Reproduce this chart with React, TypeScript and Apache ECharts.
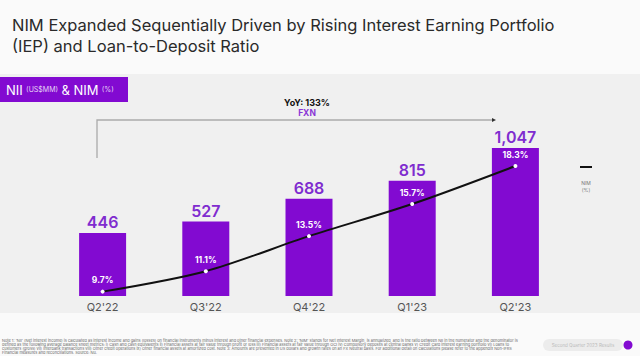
import React, { useEffect, useRef } from "react";
import * as echarts from "echarts";

const categories = ["Q2'22", "Q3'22", "Q4'22", "Q1'23", "Q2'23"];
const niiValues = [446, 527, 688, 815, 1047];
const nimValues = [9.7, 11.1, 13.5, 15.7, 18.3];

const PURPLE = "#820ad1";
const FOOT_NOTE =
  "Note 1: 'NII' (Net interest income) is calculated as interest income and gains (losses) on financial instruments minus interest and other financial expenses. Note 2: 'NIM' stands for Net Interest Margin, is annualized, and is the ratio between NII in the numerator and the denominator is defined as the following average balance sheet metrics: i) Cash and cash equivalents ii) Financial assets at fair value through profit or loss iii) Financial assets at fair value through OCI iv) Compulsory deposits at central banks v) Credit Card interest earning portfolio vi) Loans to customers (gross) vii) Interbank transactions viii) Other credit operations ix) Other financial assets at amortized cost. Note 3: Amounts are presented in US dollars and growth rates on an FX Neutral basis. For additional detail on calculations please refer to the appendix Non-IFRS Financial measures and reconciliations. Source: Nu.";

export default function App() {
  const ref = useRef<HTMLDivElement>(null);
  useEffect(() => {
    document.body.style.margin = "0";
    if (!ref.current) return;
    const chart = echarts.init(ref.current, null, { renderer: "svg" });
    chart.setOption({
      animation: false,
      backgroundColor: "#fafafa",
      textStyle: { fontFamily: "Inter" },
      grid: { left: 51, right: 73, top: 84, bottom: 60 },
      xAxis: {
        type: "category",
        data: categories,
        axisLine: { show: false },
        axisTick: { show: false },
        axisLabel: { color: "#555", fontSize: 11, margin: 5, fontFamily: "Inter" },
      },
      yAxis: [
        { type: "value", min: 0, max: 1500, show: false },
        { type: "value", min: 9.4, max: 23.92, show: false },
      ],
      graphic: [
        { type: "rect", z: -10, shape: { x: 0, y: 74, width: 640, height: 239 }, style: { fill: "#f0f0f0" } },
        {
          type: "text",
          left: 12,
          top: 14,
          style: {
            text: "NIM Expanded Sequentially Driven by Rising Interest Earning Portfolio\n(IEP) and Loan-to-Deposit Ratio",
            fontSize: 16.5,
            lineHeight: 21,
            fill: "#2a2a2a",
            fontFamily: "Inter",
          },
        },
        { type: "rect", shape: { x: 0, y: 77, width: 128, height: 25 }, style: { fill: PURPLE } },
        {
          type: "text",
          x: 6,
          y: 89.5,
          style: {
            text: "{b|NII} {s|(US$MM)} {b|& NIM} {s|(%)}",
            verticalAlign: "middle",
            rich: {
              b: { fontSize: 13, fill: "#fff", fontFamily: "Inter" },
              s: { fontSize: 7, fill: "#e6d5f5", fontFamily: "Inter" },
            },
          },
        },
        {
          type: "polyline",
          shape: { points: [[97, 158], [97, 120], [494, 120]] },
          style: { stroke: "#aaa", lineWidth: 1.3, fill: "none" },
        },
        { type: "polygon", shape: { points: [[492, 118], [496, 120], [492, 122]] }, style: { fill: "#333" } },
        {
          type: "text",
          x: 307,
          y: 102,
          style: { text: "YoY: 133%", fontSize: 9, fontWeight: "bold", fill: "#111", align: "center", verticalAlign: "middle", fontFamily: "Inter" },
        },
        {
          type: "text",
          x: 307,
          y: 112.5,
          style: { text: "FXN", fontSize: 8.5, fontWeight: "bold", fill: "#8a35d6", align: "center", verticalAlign: "middle", fontFamily: "Inter" },
        },
        { type: "line", shape: { x1: 580, y1: 167, x2: 592, y2: 167 }, style: { stroke: "#111", lineWidth: 2 } },
        {
          type: "text",
          x: 586,
          y: 186,
          style: { text: "NIM\n(%)", fontSize: 5, lineHeight: 7, fill: "#777", align: "center", verticalAlign: "middle", fontFamily: "Inter" },
        },
        {
          type: "text",
          x: 2,
          y: 339,
          style: {
            text: FOOT_NOTE,
            width: 518,
            overflow: "break",
            fontSize: 3.9,
            lineHeight: 3.8,
            fill: "#666",
            fontFamily: "Inter",
          },
        },
        { type: "rect", shape: { x: 543, y: 339, width: 80, height: 12, r: 6 }, style: { fill: "#ececec" } },
        {
          type: "text",
          x: 583,
          y: 345,
          style: { text: "Second Quarter 2023 Results", fontSize: 4.5, fill: "#bbb", align: "center", verticalAlign: "middle", fontFamily: "Inter" },
        },
        { type: "circle", shape: { cx: 628, cy: 345, r: 4.5 }, style: { fill: PURPLE } },
      ],
      series: [
        {
          type: "bar",
          data: niiValues,
          barWidth: 47,
          itemStyle: { color: PURPLE },
          label: {
            show: true,
            position: "top",
            distance: 3,
            fontSize: 16,
            fontWeight: 600,
            color: "#7f2ccf",
            fontFamily: "Inter",
            formatter: (p: any) => p.value.toLocaleString("en-US"),
          },
        },
        {
          type: "line",
          yAxisIndex: 1,
          data: nimValues,
          smooth: 0.3,
          symbol: "circle",
          symbolSize: 4,
          itemStyle: { color: "#fff", borderWidth: 0 },
          lineStyle: { color: "#111", width: 2 },
          label: {
            show: true,
            position: "top",
            distance: 5,
            fontSize: 8.5,
            fontWeight: "bold",
            color: "#fff",
            fontFamily: "Inter",
            formatter: (p: any) => p.value + "%",
          },
        },
      ],
    });
    return () => chart.dispose();
  }, []);
  return <div ref={ref} style={{ width: 640, height: 356 }} />;
}
